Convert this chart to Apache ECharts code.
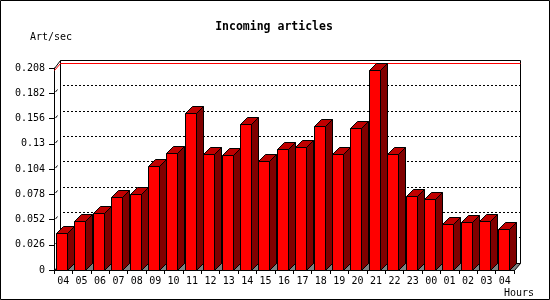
<!DOCTYPE html>
<html><head><meta charset="utf-8">
<script src="https://cdn.jsdelivr.net/npm/echarts@6/dist/echarts.min.js"></script>
<style>html,body{margin:0;padding:0;background:#fff}#c{width:550px;height:300px}</style>
</head><body><div id="c"></div>
<script>
// ---- data ----
const hours = ['04','05','06','07','08','09','10','11','12','13','14','15','16','17','18','19','20','21','22','23','00','01','02','03','04'];
const articlesPerSec = [0.0378,0.0502,0.0590,0.0749,0.0780,0.1068,0.1202,0.1614,0.1191,0.1181,0.1500,0.1119,0.1243,0.1264,0.1480,0.1191,0.1459,0.2056,0.1198,0.0759,0.0728,0.0471,0.0491,0.0502,0.0419];
const yTickLabels = ['0','0.026','0.052','0.078','0.104','0.13','0.156','0.182','0.208'];
const yMax = 0.208;
const yStep = 0.026;
const titleText = 'Incoming articles';
const yUnit = 'Art/sec';
const xUnit = 'Hours';

const FONT = '"DejaVu Sans Mono", "Liberation Mono", monospace';
const chart = echarts.init(document.getElementById('c'), null, {renderer: 'canvas'});
const crisp = v => Math.round(v) + 0.5;
const maxVal = Math.max.apply(null, articlesPerSec);

function renderWall(params, api) {
  const bw = api.size([1, 0])[0];
  const n = hours.length;
  const xL = crisp(api.coord([0, 0])[0] - bw / 2 - 0.5);
  const xR = crisp(api.coord([n - 1, 0])[0] + bw / 2 - 0.5);
  const y0 = crisp(api.coord([0, 0])[1] - 0.5);
  const yT = crisp(api.coord([0, yMax])[1] - 0.5);
  const DX = 6, DY = 7;
  const wx0 = xL + DX, wx1 = xR + DX, wt = yT - 8, wb = y0 - DY;
  const ym = crisp(api.coord([0, maxVal])[1] - 0.5);
  const ln = (pts, color) => ({type: 'polyline', shape: {points: pts}, style: {stroke: color || '#000', lineWidth: 1, fill: null}});
  const children = [
    {type: 'polygon', shape: {points: [[xL, y0], [wx0, wb], [wx1, wb], [xR, y0]]}, style: {fill: '#808080', stroke: '#000', lineWidth: 1}},
    ln([[wx0, wb], [wx0, wt], [wx1, wt], [wx1, wb]]),
    ln([[xL, yT], [wx0, wt]]),
    ln([[xL, ym], [xL + DX, ym - DY], [wx1, ym - DY]], '#ff0000')
  ];
  for (let k = 1; k < yTickLabels.length - 1; k++) {
    const yf = api.coord([0, k * yStep])[1];
    children.push(ln([[xL + 1, Math.round(yf) - 1], [xL + 3, Math.round(yf) - 3.5]]));
  }
  return {type: 'group', children: children};
}

function renderBar(params, api) {
  const i = api.value(0), v = api.value(1);
  const bw = api.size([1, 0])[0];
  const c = api.coord([i, v]);
  const b = api.coord([i, 0]);
  const start = c[0] - bw / 2;
  const xl = Math.floor(start + 2.5) + 0.5;
  const xr = xl + 11;
  const yt = Math.round(c[1]) + 0.5;
  const yb = Math.round(b[1]) + 0.5;
  const D = 7;
  const st = {stroke: '#000', lineWidth: 1};
  return {type: 'group', children: [
    {type: 'polygon', shape: {points: [[xr, yt], [xr + D, yt - D], [xr + D, yb - D], [xr, yb]]}, style: Object.assign({fill: '#800000'}, st)},
    {type: 'polygon', shape: {points: [[xl, yt], [xl + D, yt - D], [xr + D, yt - D], [xr, yt]]}, style: Object.assign({fill: '#c00000'}, st)},
    {type: 'rect', shape: {x: xl, y: yt, width: xr - xl, height: yb - yt}, style: Object.assign({fill: '#ff0000'}, st)}
  ]};
}

const option = {
  animation: false,
  backgroundColor: '#fff',
  grid: [
    {left: 54, top: 68, width: 460, height: 202},
    {left: 63, top: 60, width: 457, height: 203}
  ],
  xAxis: [
    {type: 'category', gridIndex: 0, data: hours, boundaryGap: true,
     axisLine: {show: true, lineStyle: {color: '#000', width: 1}},
     axisTick: {show: true, length: 4, interval: 0, lineStyle: {color: '#000'}},
     axisLabel: {interval: 0, margin: 6, color: '#000', fontSize: 10, fontFamily: FONT},
     splitLine: {show: false}},
    {type: 'value', gridIndex: 1, show: false, min: 0, max: 1}
  ],
  yAxis: [
    {type: 'value', gridIndex: 0, min: 0, max: yMax, interval: yStep,
     axisLine: {show: true, lineStyle: {color: '#000', width: 1}},
     axisTick: {show: true, length: 5, lineStyle: {color: '#000'}},
     axisLabel: {margin: 9, color: '#000', fontSize: 10, fontFamily: FONT,
                 formatter: (val, idx) => yTickLabels[idx]},
     splitLine: {show: false}},
    {type: 'value', gridIndex: 1, min: 0, max: yMax, interval: yStep,
     axisLine: {show: false}, axisTick: {show: false}, axisLabel: {show: false},
     splitLine: {show: true, lineStyle: {color: '#000', width: 1, type: [2, 2]}}}
  ],
  series: [
    {type: 'custom', name: 'wall', xAxisIndex: 0, yAxisIndex: 0, renderItem: renderWall,
     data: [[0, 0]], silent: true, z: 2},
    {type: 'custom', name: 'Incoming articles', xAxisIndex: 0, yAxisIndex: 0, renderItem: renderBar,
     data: articlesPerSec.map((v, i) => [i, v]), z: 3}
  ],
  graphic: [
    {type: 'rect', shape: {x: 0.5, y: 0.5, width: 549, height: 299}, style: {fill: null, stroke: '#000', lineWidth: 1}, z: 10},
    {type: 'text', x: 274, y: 27, style: {text: titleText, font: 'bold 11.5px ' + FONT, fill: '#000', textAlign: 'center', textVerticalAlign: 'middle', align: 'center', verticalAlign: 'middle'}},
    {type: 'text', x: 30, y: 37, style: {text: yUnit, font: '10px ' + FONT, fill: '#000', textAlign: 'left', textVerticalAlign: 'middle', align: 'left', verticalAlign: 'middle'}},
    {type: 'text', x: 534, y: 293, style: {text: xUnit, font: '10px ' + FONT, fill: '#000', textAlign: 'right', textVerticalAlign: 'middle', align: 'right', verticalAlign: 'middle'}}
  ]
};
chart.setOption(option);
</script>
</body></html>
